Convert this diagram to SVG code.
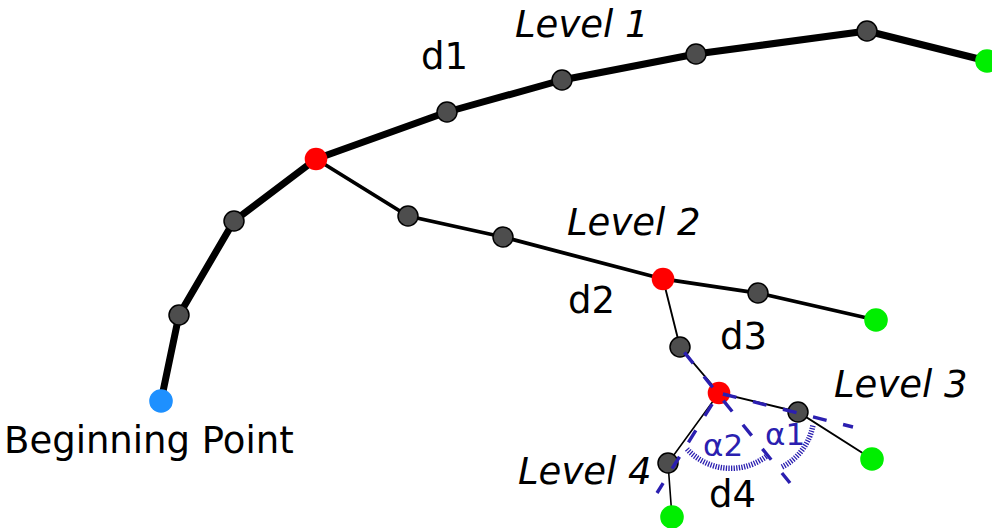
<svg xmlns="http://www.w3.org/2000/svg" width="992" height="528" viewBox="0 0 992 528">
<style>
.lbl{font-family:"DejaVu Sans","Liberation Sans",sans-serif;font-size:37px;fill:#000}
.it{font-style:italic}
.ang{font-family:"DejaVu Sans","Liberation Sans",sans-serif;font-size:31px;fill:#2b1fb0}
.l1{stroke:#000;stroke-width:7;fill:none;stroke-linejoin:round}
.l2{stroke:#000;stroke-width:3.8;fill:none}
.l3{stroke:#000;stroke-width:1.9;fill:none}
.l4{stroke:#000;stroke-width:1.6;fill:none}
.gray{fill:#4d4d4d;stroke:#000;stroke-width:1.5}
.red{fill:#ff0000}
.green{fill:#00ee00}
.blue{fill:#1e90ff}
.dash{stroke:#2b1fb0;stroke-width:3.4;fill:none;stroke-dasharray:14 17}
.dot{stroke:#2b1fb0;stroke-width:5.5;fill:none;stroke-dasharray:1.3 1.3}
</style>
<rect width="992" height="528" fill="#fff"/>
<g id="connectors">
<polyline class="l1" points="161,401 179,315 234,221 316,159 447,112 562,80 696,54 867,31 987,61"/>
<polyline class="l2" points="316,159 408,216 503,237 663,279 758,293 876,320"/>
<polyline class="l3" points="663,279 680,347 719,393 798,412 872,459"/>
<polyline class="l4" points="719,393 668,463 672,517"/>
</g>
<g id="nodes">
<g id="n1"><circle class="gray" cx="179" cy="315" r="10"/></g>
<g id="n2"><circle class="gray" cx="234" cy="221" r="10"/></g>
<g id="n3"><circle class="gray" cx="447" cy="112" r="10"/></g>
<g id="n4"><circle class="gray" cx="562" cy="80" r="10"/></g>
<g id="n5"><circle class="gray" cx="696" cy="54" r="10"/></g>
<g id="n6"><circle class="gray" cx="867" cy="31" r="10"/></g>
<g id="n7"><circle class="gray" cx="408" cy="216" r="10"/></g>
<g id="n8"><circle class="gray" cx="503" cy="237" r="10"/></g>
<g id="n9"><circle class="gray" cx="758" cy="293" r="10"/></g>
<g id="n10"><circle class="gray" cx="680" cy="347" r="10"/></g>
<g id="n11"><circle class="gray" cx="798" cy="412" r="10"/></g>
<g id="n12"><circle class="gray" cx="668" cy="463" r="10"/></g>
<g id="start"><circle class="blue" cx="161" cy="401" r="11.8"/></g>
<g id="b1"><circle class="red" cx="316" cy="159" r="11.3"/></g>
<g id="b2"><circle class="red" cx="663" cy="279" r="11.3"/></g>
<g id="b3"><circle class="red" cx="719" cy="393" r="11.3"/></g>
<g id="e1"><circle class="green" cx="987" cy="61" r="11.8"/></g>
<g id="e2"><circle class="green" cx="876" cy="320" r="11.8"/></g>
<g id="e3"><circle class="green" cx="872" cy="459" r="11.8"/></g>
<g id="e4"><circle class="green" cx="672" cy="517" r="11.8"/></g>
</g>
<g id="angles">
<line class="dash" x1="680" y1="347" x2="790" y2="483" stroke-dashoffset="24"/>
<line class="dash" x1="719" y1="393" x2="853" y2="427" stroke-dashoffset="27"/>
<line class="dash" x1="719" y1="393" x2="657" y2="493" stroke-dashoffset="18"/>
<path class="dot" d="M687,449 A59,59 0 0 0 768,455"/>
<path class="dot" d="M782,467 A59,59 0 0 0 813,425"/>
<text class="ang" x="703" y="456">α2</text>
<text class="ang" x="765" y="445">α1</text>
</g>
<g id="labels">
<text class="lbl it" x="515" y="37">Level 1</text>
<text class="lbl" x="421" y="69">d1</text>
<text class="lbl it" x="567" y="235">Level 2</text>
<text class="lbl" x="568" y="313">d2</text>
<text class="lbl" x="720" y="349">d3</text>
<text class="lbl it" x="834" y="397">Level 3</text>
<text class="lbl it" x="518" y="484">Level 4</text>
<text class="lbl" x="709" y="507">d4</text>
<text class="lbl" x="4" y="453">Beginning Point</text>
</g>
</svg>
